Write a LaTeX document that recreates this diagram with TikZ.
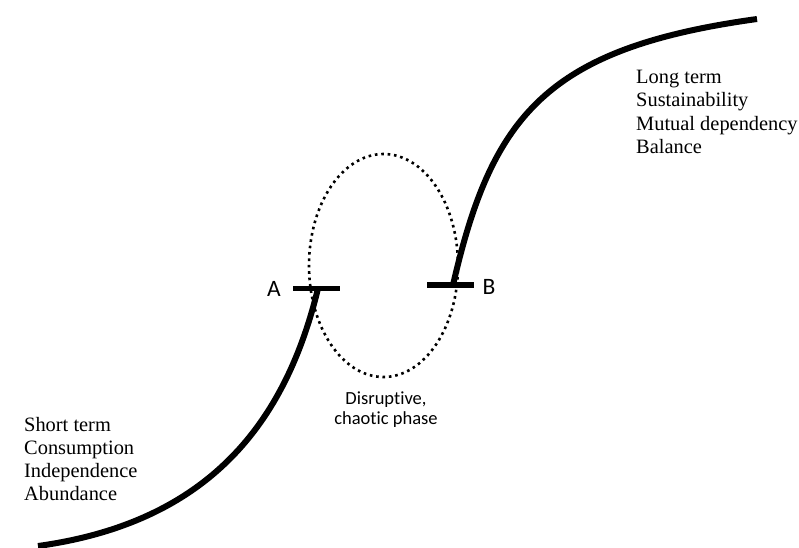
\documentclass[tikz,border=0pt]{standalone}
\usepackage{fontspec}
\setmainfont{Liberation Serif}
\newfontfamily\labelfont[Ligatures={NoCommon,NoContextual}]{Carlito}
\begin{document}
\begin{tikzpicture}[x=1pt,y=-1pt,
  curveline/.style={line width=6pt, line cap=butt},
  barline/.style={line width=5.5pt},
  phaseloop/.style={line width=2.6pt, dash pattern=on 2.6pt off 3.8pt},
  sidetext/.style={anchor=base west, inner sep=0pt, font=\fontsize{20.4}{23}\selectfont},
  letter/.style={anchor=base, inner sep=0pt, font=\labelfont\fontsize{23.5}{24}\selectfont},
  phasetext/.style={anchor=base, inner sep=0pt, align=center, font=\labelfont\fontsize{18.5}{20}\selectfont}]
\useasboundingbox (0,0) rectangle (799,547);

% dotted ellipse
\draw[phaseloop] (383.5,265.5) ellipse [x radius=74.5pt, y radius=111.5pt];

% bars and ends
\coordinate (aL) at (293,288.5);
\coordinate (aR) at (340,288.5);
\coordinate (aT) at (318,288.5);
\coordinate (bL) at (427,285);
\coordinate (bR) at (474,285);
\coordinate (bT) at (453,285);
\coordinate (lowEnd) at (38,546);
\coordinate (highEnd) at (757,19);

\draw[curveline] (aT) .. controls (285.5,422) and (210,522.2) .. (lowEnd);
\draw[curveline] (bT) .. controls (492,115) and (547,48) .. (highEnd);

\draw[barline] (aL) -- (aR);
\draw[barline] (bL) -- (bR);

\node[letter] (A) at (274,296.5) {A};
\node[letter] (B) at (489,294) {B};

\node[sidetext] (tr1) at (636,83) {Long term};
\node[sidetext] (tr2) at (636,106.5) {Sustainability};
\node[sidetext] (tr3) at (636,130) {Mutual dependency};
\node[sidetext] (tr4) at (636,153) {Balance};

\node[sidetext] (bl1) at (24,431.5) {Short term};
\node[sidetext] (bl2) at (24,454.5) {Consumption};
\node[sidetext] (bl3) at (24,477.5) {Independence};
\node[sidetext] (bl4) at (24,500.5) {Abundance};

\node[phasetext] (ph1) at (386,404) {Disrupt\kern0pt ive,};
\node[phasetext] (ph2) at (386,424) {chaot\kern0pt ic phase};
\end{tikzpicture}
\end{document}
